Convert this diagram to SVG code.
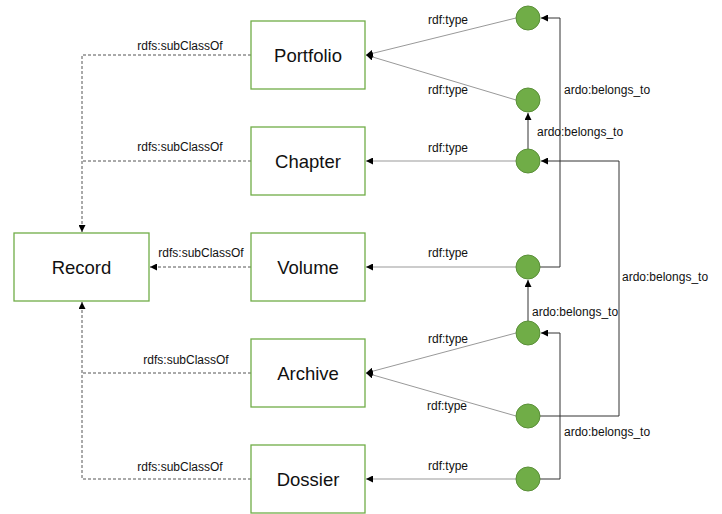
<svg xmlns="http://www.w3.org/2000/svg" width="722" height="514" viewBox="0 0 722 514">
  <defs>
    <marker id="arr" viewBox="0 0 8 8" refX="8" refY="4" markerWidth="7" markerHeight="7" markerUnits="userSpaceOnUse" orient="auto">
      <path d="M0,0 L8,4 L0,8 Z" fill="#000"/>
    </marker>
    <style>
      .cls rect { fill: #fff; stroke: #70AD47; stroke-width: 1.3; }
      .cls text { font-family: "Liberation Sans", Arial, sans-serif; font-size: 18.5px; fill: #111; text-anchor: middle; }
      .ind circle { fill: #70AD47; stroke: #5A8F38; stroke-width: 1; }
      .sub { fill: none; stroke: #555; stroke-width: 1; stroke-dasharray: 3 2; }
      .type { fill: none; stroke: #999; stroke-width: 1; }
      .belong { fill: none; stroke: #333; stroke-width: 1; }
      .lbl { font-family: "Liberation Sans", Arial, sans-serif; font-size: 12px; fill: #111; }
      .mid { text-anchor: middle; }
    </style>
  </defs>

  <!-- connectors -->
  <g id="connectors">
    <!-- rdfs:subClassOf -->
    <path class="sub" d="M251,55 H82 V232" marker-end="url(#arr)"/>
    <path class="sub" d="M251,161 H82"/>
    <path class="sub" d="M251,267 H150" marker-end="url(#arr)"/>
    <path class="sub" d="M251,373 H82"/>
    <path class="sub" d="M251,479 H82 V302" marker-end="url(#arr)"/>
    <!-- rdf:type -->
    <path class="type" d="M516,18 L366,55" marker-end="url(#arr)"/>
    <path class="type" d="M516,100 L366,55" marker-end="url(#arr)"/>
    <path class="type" d="M516,161 H366" marker-end="url(#arr)"/>
    <path class="type" d="M516,267 H366" marker-end="url(#arr)"/>
    <path class="type" d="M516,333 L366,373" marker-end="url(#arr)"/>
    <path class="type" d="M516,416 L366,373" marker-end="url(#arr)"/>
    <path class="type" d="M516,479 H366" marker-end="url(#arr)"/>
    <!-- ardo:belongs_to -->
    <path class="belong" d="M540,267 H560 V18 H541" marker-end="url(#arr)"/>
    <path class="belong" d="M528,149 V113" marker-end="url(#arr)"/>
    <path class="belong" d="M540,416 H619 V161 H541" marker-end="url(#arr)"/>
    <path class="belong" d="M528,321 V280" marker-end="url(#arr)"/>
    <path class="belong" d="M540,479 H560 V333 H541" marker-end="url(#arr)"/>

    <!-- labels -->
    <text class="lbl mid" x="180" y="50">rdfs:subClassOf</text>
    <text class="lbl mid" x="180" y="151">rdfs:subClassOf</text>
    <text class="lbl mid" x="201" y="257">rdfs:subClassOf</text>
    <text class="lbl mid" x="186" y="364">rdfs:subClassOf</text>
    <text class="lbl mid" x="180" y="471">rdfs:subClassOf</text>

    <text class="lbl mid" x="448" y="24">rdf:type</text>
    <text class="lbl mid" x="448" y="94">rdf:type</text>
    <text class="lbl mid" x="448" y="152">rdf:type</text>
    <text class="lbl mid" x="448" y="257">rdf:type</text>
    <text class="lbl mid" x="448" y="343">rdf:type</text>
    <text class="lbl mid" x="447" y="410">rdf:type</text>
    <text class="lbl mid" x="448" y="470">rdf:type</text>

    <text class="lbl" x="564" y="94">ardo:belongs_to</text>
    <text class="lbl" x="537" y="136">ardo:belongs_to</text>
    <text class="lbl" x="622" y="281">ardo:belongs_to</text>
    <text class="lbl" x="532" y="316">ardo:belongs_to</text>
    <text class="lbl" x="564" y="436">ardo:belongs_to</text>
  </g>

  <!-- classes -->
  <g id="record" class="cls"><rect x="14" y="233" width="135" height="68"/><text x="81.5" y="274">Record</text></g>
  <g id="portfolio" class="cls"><rect x="251" y="21" width="114" height="68"/><text x="308" y="62">Portfolio</text></g>
  <g id="chapter" class="cls"><rect x="251" y="127" width="114" height="68"/><text x="308" y="168">Chapter</text></g>
  <g id="volume" class="cls"><rect x="251" y="233" width="114" height="68"/><text x="308" y="274">Volume</text></g>
  <g id="archive" class="cls"><rect x="251" y="339" width="114" height="68"/><text x="308" y="380">Archive</text></g>
  <g id="dossier" class="cls"><rect x="251" y="445" width="114" height="68"/><text x="308" y="486">Dossier</text></g>

  <!-- individuals -->
  <g id="ind1" class="ind"><circle cx="528" cy="18" r="12"/></g>
  <g id="ind2" class="ind"><circle cx="528" cy="100" r="12"/></g>
  <g id="ind3" class="ind"><circle cx="528" cy="161" r="12"/></g>
  <g id="ind4" class="ind"><circle cx="528" cy="267" r="12"/></g>
  <g id="ind5" class="ind"><circle cx="528" cy="333" r="12"/></g>
  <g id="ind6" class="ind"><circle cx="528" cy="416" r="12"/></g>
  <g id="ind7" class="ind"><circle cx="528" cy="479" r="12"/></g>
</svg>
